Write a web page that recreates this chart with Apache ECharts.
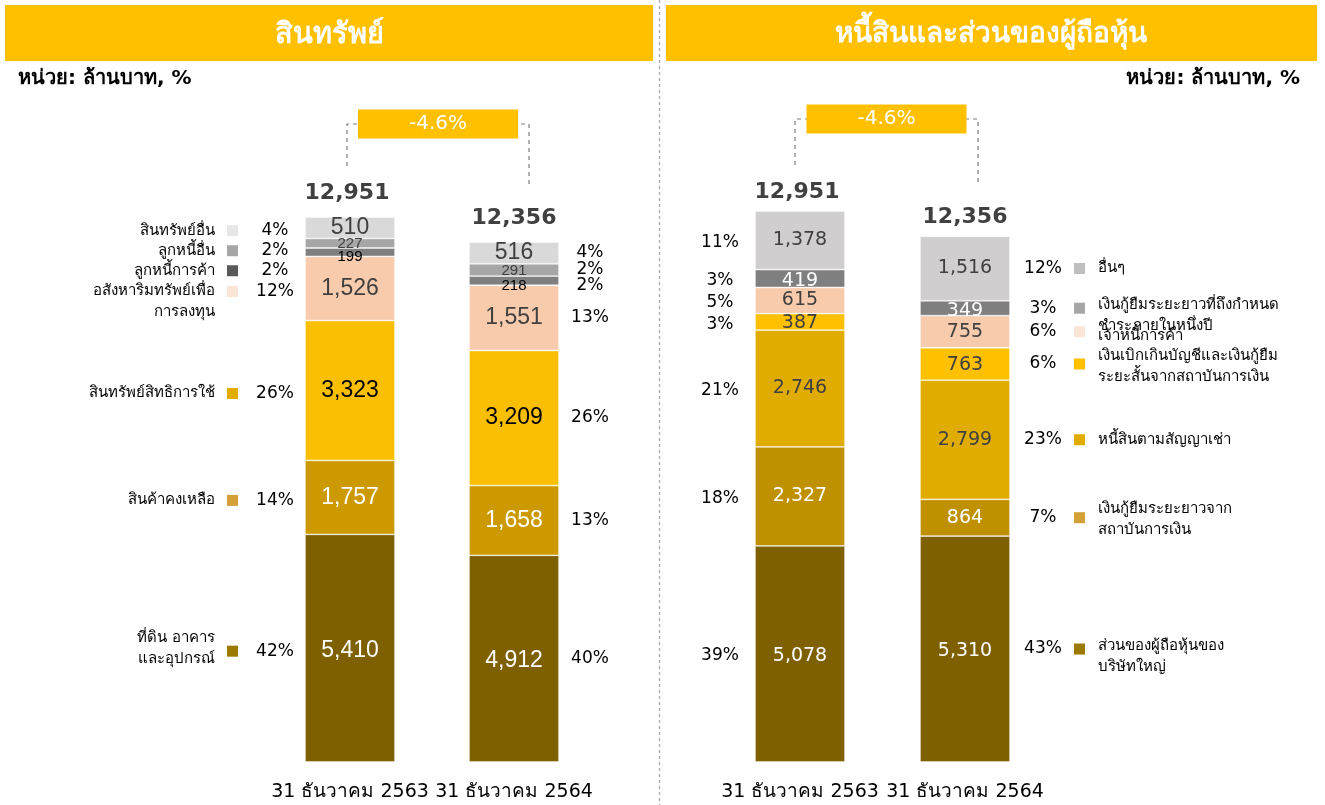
<!DOCTYPE html>
<html>
<head>
<meta charset="utf-8">
<script src="https://cdn.jsdelivr.net/npm/echarts@6/dist/echarts.min.js"></script>
<style>
html,body{margin:0;padding:0;background:#fff;}
#main{width:1325px;height:805px;}
</style>
</head>
<body>
<div id="main"></div>
<script>
// ---------------- DATA ----------------
const categories = ['31 ธันวาคม 2563', '31 ธันวาคม 2564'];

const assetTitle = 'สินทรัพย์';
const liabTitle = 'หนี้สินและส่วนของผู้ถือหุ้น';
const unitLabel = 'หน่วย: ล้านบาท, %';

// order: bottom -> top of stack
const assetNames = ['ที่ดิน อาคาร\nและอุปกรณ์', 'สินค้าคงเหลือ', 'สินทรัพย์สิทธิการใช้', 'อสังหาริมทรัพย์เพื่อ\nการลงทุน', 'ลูกหนี้การค้า', 'ลูกหนี้อื่น', 'สินทรัพย์อื่น'];
const assets2563 = [5410, 1757, 3323, 1526, 199, 227, 510];
const assets2564 = [4912, 1658, 3209, 1551, 218, 291, 516];
const assetPct2563 = [42, 14, 26, 12, 2, 2, 4];
const assetPct2564 = [40, 13, 26, 13, 2, 2, 4];
const assetTotals = [12951, 12356];

const liabNames = ['ส่วนของผู้ถือหุ้นของ\nบริษัทใหญ่', 'เงินกู้ยืมระยะยาวจาก\nสถาบันการเงิน', 'หนี้สินตามสัญญาเช่า', 'เงินเบิกเกินบัญชีและเงินกู้ยืม\nระยะสั้นจากสถาบันการเงิน', 'เจ้าหนี้การค้า', 'เงินกู้ยืมระยะยาวที่ถึงกำหนด\nชำระภายในหนึ่งปี', 'อื่นๆ'];
const liab2563 = [5078, 2327, 2746, 387, 615, 419, 1378];
const liab2564 = [5310, 864, 2799, 763, 755, 349, 1516];
const liabPct2563 = [39, 18, 21, 3, 5, 3, 11];
const liabPct2564 = [43, 7, 23, 6, 6, 3, 12];
const liabTotals = [12951, 12356];

const assetChange = '-4.6%';
const liabChange = '-4.6%';

// ---------------- STYLE ----------------
const THAI = 'Tahoma, "DejaVu Sans", "Noto Sans", sans-serif';
const ARIAL = 'Arial, "Liberation Sans", sans-serif';
const DEJA = '"DejaVu Sans", sans-serif';
const GOLD = '#FFC000';

const assetColors = ['#7F6000', '#CC9A00', '#FABF00', '#F8CBAD', '#7F7F7F', '#A6A6A6', '#D9D9D9'];
const assetMarker = ['#9C7A00', '#D6A038', '#E2AD00', '#FBE5D6', '#595959', '#A6A6A6', '#E7E6E6'];
const assetLabelColor = ['#fff', '#fff', '#000', '#404040', '#000', '#404040', '#404040'];
const assetLabelSize = [23, 23, 23, 23, 15, 15, 23];
const assetLabelOffset = [[0, 2], [0, 0], [0, 0], [0, 0], [0, 5], [0, 1], [0, 0]];
const assetLegendShift = [-3, 0, 0, 10, 0, 0, 0];

const liabColors = ['#7F6000', '#BF9000', '#E0AC00', '#FFC000', '#F8CBAD', '#7F7F7F', '#D0CECE'];
const liabMarker = ['#9C7A00', '#D6A038', '#E2AD00', '#FFC000', '#FBE5D6', '#A6A6A6', '#BFBFBF'];
const liabLabelColor = ['#fff', '#fff', '#404040', '#404040', '#404040', '#fff', '#404040'];
const liabLabelOffset = [[0, 2], [0, 0], [0, 0], [0, 1], [0, 0], [0, 3], [0, 0]];
const liabLegendShift = [8, 2, 0, 3, 4, 7, 0];

const fmt = v => Number(v).toLocaleString('en-US');

const chart = echarts.init(document.getElementById('main'), null, {renderer: 'canvas'});

function makeSeries(names, d1, d2, colors, lblColors, lblSizes, lblOffsets, fam, axisIdx, stack) {
  return names.map((n, i) => ({
    name: n,
    type: 'bar',
    stack: stack,
    xAxisIndex: axisIdx,
    yAxisIndex: axisIdx,
    barWidth: 90,
    data: [d1[i], d2[i]],
    itemStyle: {color: colors[i], borderColor: 'rgba(255,255,255,0.55)', borderWidth: 0.8},
    label: {
      show: true, position: 'inside', formatter: p => fmt(p.value),
      color: lblColors[i], fontSize: lblSizes[i], fontFamily: fam, offset: lblOffsets[i]
    },
    emphasis: {disabled: true}
  }));
}

const catAxis = (gi) => ({
  type: 'category', gridIndex: gi, data: categories,
  axisLine: {show: false}, axisTick: {show: false},
  axisLabel: {color: '#000', fontSize: 19, fontFamily: THAI, margin: 21, interval: 0}
});
const valAxis = (gi) => ({type: 'value', gridIndex: gi, min: 0, max: 'dataMax', show: false});

const option = {
  animation: false,
  backgroundColor: '#fff',
  grid: [
    {left: 268, width: 328, top: 217, bottom: 43},
    {left: 717.5, width: 330, top: 211, bottom: 43}
  ],
  xAxis: [catAxis(0), catAxis(1)],
  yAxis: [valAxis(0), valAxis(1)],
  series: [
    ...makeSeries(assetNames, assets2563, assets2564, assetColors, assetLabelColor, assetLabelSize, assetLabelOffset, ARIAL, 0, 'assets'),
    ...makeSeries(liabNames, liab2563, liab2564, liabColors, liabLabelColor, liabNames.map(() => 19), liabLabelOffset, THAI, 1, 'liab')
  ]
};
chart.setOption(option);

// ---------------- ANNOTATIONS (positioned via the chart's own scales) ----------------
function centers(gi, cat, vals) {
  let acc = 0;
  return vals.map(v => {
    const y = chart.convertToPixel({gridIndex: gi}, [cat, acc + v / 2])[1];
    acc += v;
    return y;
  });
}
function topY(gi, cat, vals) {
  const s = vals.reduce((a, b) => a + b, 0);
  return chart.convertToPixel({gridIndex: gi}, [cat, s])[1];
}
function xc(gi, cat) { return chart.convertToPixel({gridIndex: gi}, [cat, 0])[0]; }
function spread(cs, gap) {
  const out = cs.slice();
  for (let i = out.length - 2; i >= 0; i--) {
    if (out[i] < out[i + 1] + gap) out[i] = out[i + 1] + gap;
  }
  return out;
}
function txt(text, x, y, o) {
  o = o || {};
  return {
    type: 'text', silent: true, z: 100,
    style: {
      text: text, x: x, y: y,
      fill: o.fill || '#000',
      fontSize: o.size || 16, fontFamily: o.family || THAI, fontWeight: o.weight || 'normal',
      align: o.align || 'center', verticalAlign: o.valign || 'middle',
      textAlign: o.align || 'center', textVerticalAlign: o.valign || 'middle',
      lineHeight: o.lh || 21
    }
  };
}
function rect(x, y, w, h, fill) {
  return {type: 'rect', silent: true, z: 90, shape: {x: x, y: y, width: w, height: h}, style: {fill: fill}};
}
function dashed(points) {
  return {type: 'polyline', silent: true, z: 90, shape: {points: points}, style: {stroke: '#7F7F7F', lineWidth: 1.2, lineDash: [4, 4], fill: null}};
}

const g = [];
// banners
g.push(rect(5, 5, 648, 56, GOLD));
g.push(txt(assetTitle, 329, 35, {fill: '#fff', size: 29, weight: 'bold'}));
g.push(rect(666, 5, 651, 56, GOLD));
g.push(txt(liabTitle, 991, 35, {fill: '#fff', size: 28, weight: 'bold'}));
// unit labels
g.push(txt(unitLabel, 18, 79, {align: 'left', size: 20, weight: 'bold'}));
g.push(txt(unitLabel, 1300, 79, {align: 'right', size: 20, weight: 'bold'}));
// divider
g.push({type: 'line', silent: true, z: 90, shape: {x1: 659.5, y1: 0, x2: 659.5, y2: 805}, style: {stroke: '#A6A6A6', lineWidth: 1.2, lineDash: [3, 3]}});

function panel(gi, d1, d2, totals, change, totalGap, boxY, bracketL, bracketR) {
  const c1 = xc(gi, 0), c2 = xc(gi, 1);
  const t1 = topY(gi, 0, d1), t2 = topY(gi, 1, d2);
  const ly1 = t1 - totalGap, ly2 = t2 - totalGap;
  g.push(txt(fmt(totals[0]), c1 - 3, ly1, {size: 22, weight: 'bold', fill: '#404040', family: DEJA}));
  g.push(txt(fmt(totals[1]), c2, ly2, {size: 22, weight: 'bold', fill: '#404040', family: DEJA}));
  const xl = c1 + bracketL, xr = c2 + bracketR;
  g.push(dashed([[xl, ly1 - 27], [xl, boxY], [xr, boxY], [xr, ly2 - 33]]));
  const mid = (xl + xr) / 2;
  g.push(rect(mid - 80, boxY - 14.5, 160, 29, GOLD));
  g.push(txt(change, mid, boxY, {fill: '#fff', size: 20, family: DEJA}));
}
panel(0, assets2563, assets2564, assetTotals, assetChange, 24, 124, -3, 15);
panel(1, liab2563, liab2564, liabTotals, liabChange, 19, 119, -5, 13);

// Left panel legend (rows follow 2563 bar) + percentages
(function () {
  const bl = xc(0, 0) - 45, br2 = xc(0, 1) + 45;
  const rows = spread(centers(0, 0, assets2563), 20).map(y => y + 3);
  assetNames.forEach((n, i) => {
    g.push(txt(n, bl - 90, rows[i] + assetLegendShift[i], {align: 'right', size: 15}));
    g.push(rect(bl - 78, rows[i] - 5.5, 11, 11, assetMarker[i]));
    g.push(txt(assetPct2563[i] + '%', bl - 30, rows[i], {size: 17, family: DEJA}));
  });
  const rows2 = spread(centers(0, 1, assets2564), 16);
  assetPct2564.forEach((p, i) => {
    g.push(txt(p + '%', br2 + 31, rows2[i], {size: 17, family: DEJA}));
  });
})();

// Right panel: percentages left of 2563 bar; legend right of 2564 bar
(function () {
  const bl = xc(1, 0) - 45, br2 = xc(1, 1) + 45;
  const rows1 = spread(centers(1, 0, liab2563), 22).map(y => y + 2);
  liabPct2563.forEach((p, i) => {
    g.push(txt(p + '%', bl - 35, rows1[i], {size: 17, family: DEJA}));
  });
  const rows2 = spread(centers(1, 1, liab2564), 22);
  liabNames.forEach((n, i) => {
    g.push(txt(liabPct2564[i] + '%', br2 + 33, rows2[i], {size: 17, family: DEJA}));
    g.push(rect(br2 + 64, rows2[i] - 5.5, 11, 11, liabMarker[i]));
    g.push(txt(n, br2 + 88, rows2[i] + liabLegendShift[i], {align: 'left', size: 15}));
  });
})();

chart.setOption({graphic: {elements: g}});
</script>
</body>
</html>
